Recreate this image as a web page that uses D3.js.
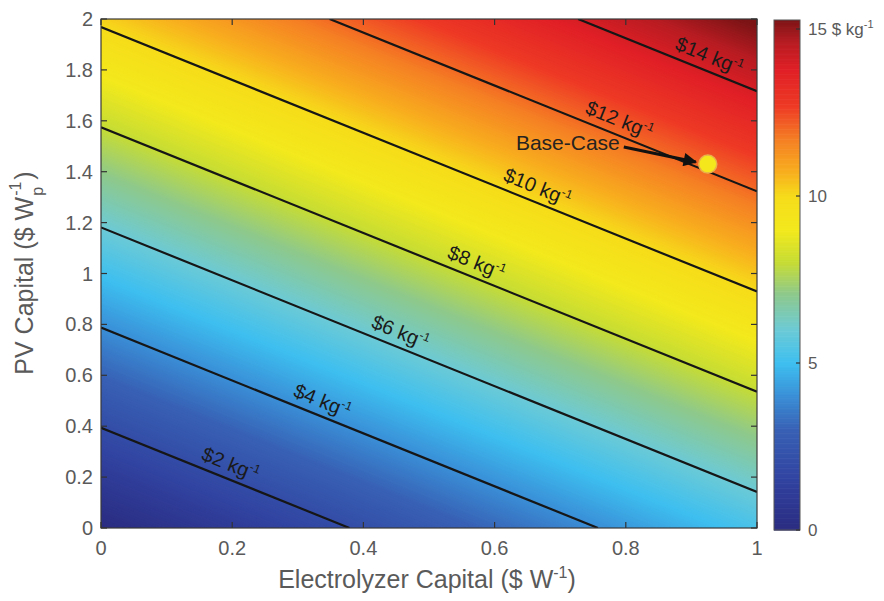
<!DOCTYPE html>
<html><head><meta charset="utf-8">
<script src="https://cdn.jsdelivr.net/npm/d3@7"></script>
<style>body{margin:0;background:#fff}text{font-family:"Liberation Sans",Arial,sans-serif}</style>
</head><body>
<svg id="c" width="884" height="601"></svg>
<script>
// ---- data ----
const xTicks = [0, 0.2, 0.4, 0.6, 0.8, 1];
const yTicks = [0, 0.2, 0.4, 0.6, 0.8, 1, 1.2, 1.4, 1.6, 1.8, 2];
const cbTicks = [0, 5, 10, 15];
const contourLevels = [2, 4, 6, 8, 10, 12, 14];
const contourLabelX = [0.189, 0.329, 0.448, 0.564, 0.657, 0.782, 0.919];
const elecCoef = 5.28;   // $/kg per $/W electrolyzer
const pvCoef = 5.08;     // $/kg per $/Wp PV
const baseCase = [0.925, 1.43];
const cmapValues = [0, 1.5, 3, 4, 5, 6, 7.1, 8, 9, 10, 10.7, 11.7, 12.7, 13.8, 14.6, 15.3];
const cmapColors = ["#2a2c80", "#3142a0", "#3860b4", "#3a8ed6", "#3dbff0", "#6ccad6", "#8fc98a", "#c5dc35", "#f3e91c", "#f6dc1a", "#f8b01e", "#f57f24", "#ee3a25", "#e01f26", "#b81c22", "#7c1416"];

// ---- layout ----
const svg = d3.select("#c");
const P = {l: 101, r: 757, t: 19, b: 528};
const x = d3.scaleLinear().domain([0, 1]).range([P.l, P.r]);
const y = d3.scaleLinear().domain([0, 2]).range([P.b, P.t]);
const color = d3.scaleLinear().domain(cmapValues).range(cmapColors).interpolate(d3.interpolateRgb).clamp(true);
const cost = (e, p) => elecCoef * e + pvCoef * p;
const axisCol = "#5a5a5a";

svg.append("defs").append("clipPath").attr("id", "clip")
  .append("rect").attr("x", P.l).attr("y", P.t).attr("width", P.r - P.l).attr("height", P.b - P.t);

// ---- filled field ----
const nx = 121, ny = 121;
const vals = new Array(nx * ny);
for (let j = 0; j < ny; j++) for (let i = 0; i < nx; i++)
  vals[j * nx + i] = cost(i / (nx - 1), 2 * j / (ny - 1));
const step = 0.05;
const thr = d3.range(step, 15.5, step);
const contours = d3.contours().size([nx, ny]).thresholds(thr)(vals);
const proj = d3.geoTransform({point: function(gx, gy) {
  this.stream.point(x((gx - 0.5) / (nx - 1)), y(2 * (gy - 0.5) / (ny - 1)));
}});
const path = d3.geoPath(proj);
const field = svg.append("g").attr("clip-path", "url(#clip)");
field.append("rect").attr("x", P.l).attr("y", P.t).attr("width", P.r - P.l).attr("height", P.b - P.t)
  .attr("fill", color(step / 2));
field.selectAll("path.band").data(contours).join("path").attr("class", "band")
  .attr("d", path).attr("fill", d => color(d.value + step / 2)).attr("stroke", d => color(d.value + step / 2)).attr("stroke-width", 0.6);

// ---- contour lines ----
function endpoints(L) {
  let a = [0, L / pvCoef];
  if (a[1] > 2) a = [(L - 2 * pvCoef) / elecCoef, 2];
  let b = [L / elecCoef, 0];
  if (b[0] > 1) b = [1, (L - elecCoef) / pvCoef];
  return [a, b];
}
const lineG = svg.append("g").attr("clip-path", "url(#clip)");
lineG.selectAll("path.cl").data(contourLevels).join("path").attr("class", "cl")
  .attr("d", L => d3.line().x(d => x(d[0])).y(d => y(d[1]))(endpoints(L)))
  .attr("fill", "none").attr("stroke", "#161616").attr("stroke-width", 2.2);

// contour labels
const slopePx = (elecCoef / pvCoef) * (y(0) - y(1)) / (x(1) - x(0));
const ang = Math.atan(slopePx) * 180 / Math.PI;
const nrm = [Math.sin(ang * Math.PI / 180), -Math.cos(ang * Math.PI / 180)];
const off = 8;
contourLevels.forEach((L, k) => {
  const e = contourLabelX[k];
  const p = (L - elecCoef * e) / pvCoef;
  const cx = x(e) + nrm[0] * off, cy = y(p) + nrm[1] * off;
  const t = svg.append("text").attr("transform", `translate(${cx},${cy}) rotate(${ang})`)
    .attr("text-anchor", "middle").attr("font-size", 20).attr("fill", "#1a1a1a");
  t.append("tspan").text(`$${L} kg`);
  t.append("tspan").attr("font-size", 12).attr("dy", -8).text("-1");
});

// ---- frame & ticks ----
svg.append("rect").attr("x", P.l).attr("y", P.t).attr("width", P.r - P.l).attr("height", P.b - P.t)
  .attr("fill", "none").attr("stroke", "#3a3a3a").attr("stroke-width", 1.2);
const tk = svg.append("g").attr("stroke", "#333").attr("stroke-width", 1.2);
xTicks.forEach(v => {
  tk.append("line").attr("x1", x(v)).attr("x2", x(v)).attr("y1", P.b).attr("y2", P.b - 6);
  tk.append("line").attr("x1", x(v)).attr("x2", x(v)).attr("y1", P.t).attr("y2", P.t + 6);
});
yTicks.forEach(v => {
  tk.append("line").attr("y1", y(v)).attr("y2", y(v)).attr("x1", P.l).attr("x2", P.l + 6);
  tk.append("line").attr("y1", y(v)).attr("y2", y(v)).attr("x1", P.r).attr("x2", P.r - 6);
});
svg.selectAll("text.xt").data(xTicks).join("text").attr("class", "xt")
  .attr("x", d => x(d)).attr("y", P.b + 27).attr("text-anchor", "middle")
  .attr("font-size", 20).attr("fill", axisCol).text(d => d3.format("~g")(d));
svg.selectAll("text.yt").data(yTicks).join("text").attr("class", "yt")
  .attr("x", P.l - 8).attr("y", d => y(d) + 7).attr("text-anchor", "end")
  .attr("font-size", 20).attr("fill", axisCol).text(d => d3.format("~g")(d));

// axis titles
const xt = svg.append("text").attr("x", (P.l + P.r) / 2 - 2).attr("y", 588).attr("text-anchor", "middle")
  .attr("font-size", 25).attr("fill", axisCol);
xt.append("tspan").text("Electrolyzer Capital ($ W");
xt.append("tspan").attr("font-size", 16).attr("dy", -10).text("-1");
xt.append("tspan").attr("dy", 10).text(")");

const yg = svg.append("g").attr("transform", `translate(33,${(P.t + P.b) / 2}) rotate(-90)`);
const y1 = yg.append("text").attr("font-size", 25).attr("fill", axisCol).text("PV Capital ($ W");
const w1 = y1.node().getComputedTextLength();
const yS = yg.append("text").attr("font-size", 16).attr("fill", axisCol).text("-1");
const yP = yg.append("text").attr("font-size", 16).attr("fill", axisCol).text("p");
const yC = yg.append("text").attr("font-size", 25).attr("fill", axisCol).text(")");
const wS = yS.node().getComputedTextLength();
const wC = yC.node().getComputedTextLength();
const total = w1 + wS + 2 + wC;
const x0 = -total / 2;
y1.attr("x", x0).attr("y", 0);
yS.attr("x", x0 + w1 + 1).attr("y", -12);
yP.attr("x", x0 + w1 + 1).attr("y", 10);
yC.attr("x", x0 + w1 + wS + 3).attr("y", 0);

// ---- base case ----
const bx = x(baseCase[0]), by = y(baseCase[1]);
svg.select("defs").append("marker").attr("id", "ah").attr("viewBox", "0 0 10 10")
  .attr("refX", 9).attr("refY", 5).attr("markerWidth", 5).attr("markerHeight", 4.5)
  .attr("orient", "auto").attr("markerUnits", "strokeWidth")
  .append("path").attr("d", "M0,0 L10,5 L0,10 Z").attr("fill", "#111");
svg.append("line").attr("x1", bx - 84).attr("y1", by - 17).attr("x2", bx - 12).attr("y2", by - 2)
  .attr("stroke", "#111").attr("stroke-width", 3).attr("marker-end", "url(#ah)");
svg.append("circle").attr("cx", bx).attr("cy", by).attr("r", 9)
  .attr("fill", "#f4e81c").attr("stroke", "#eab04a").attr("stroke-width", 1.5);
svg.append("text").attr("x", bx - 88).attr("y", by - 14).attr("text-anchor", "end")
  .attr("font-size", 21).attr("fill", "#262320").text("Base-Case");

// ---- colorbar ----
const CB = {l: 774, r: 800, t: 20, b: 530};
const cy = d3.scaleLinear().domain([0, 15.27]).range([CB.b, CB.t]);
const cbVals = d3.range(0, 15.27, 0.05);
svg.append("g").selectAll("rect").data(cbVals).join("rect")
  .attr("x", CB.l).attr("width", CB.r - CB.l)
  .attr("y", d => cy(Math.min(d + 0.05, 15.27))).attr("height", d => cy(d) - cy(Math.min(d + 0.05, 15.27)) + 0.6)
  .attr("fill", d => color(d + 0.025));
svg.append("rect").attr("x", CB.l).attr("y", CB.t).attr("width", CB.r - CB.l).attr("height", CB.b - CB.t)
  .attr("fill", "none").attr("stroke", "#555").attr("stroke-width", 1);
cbTicks.forEach(v => {
  svg.append("line").attr("x1", CB.r).attr("x2", CB.r - 4).attr("y1", cy(v)).attr("y2", cy(v))
    .attr("stroke", "#333").attr("stroke-width", 1.2);
});
cbTicks.forEach(v => {
  const t = svg.append("text").attr("x", CB.r + 8).attr("y", cy(v) + 6).attr("font-size", 17).attr("fill", axisCol);
  if (v === 15) {
    t.append("tspan").text("15 $ kg");
    t.append("tspan").attr("font-size", 11).attr("dy", -7).text("-1");
  } else t.text(v);
});
</script>
</body></html>
